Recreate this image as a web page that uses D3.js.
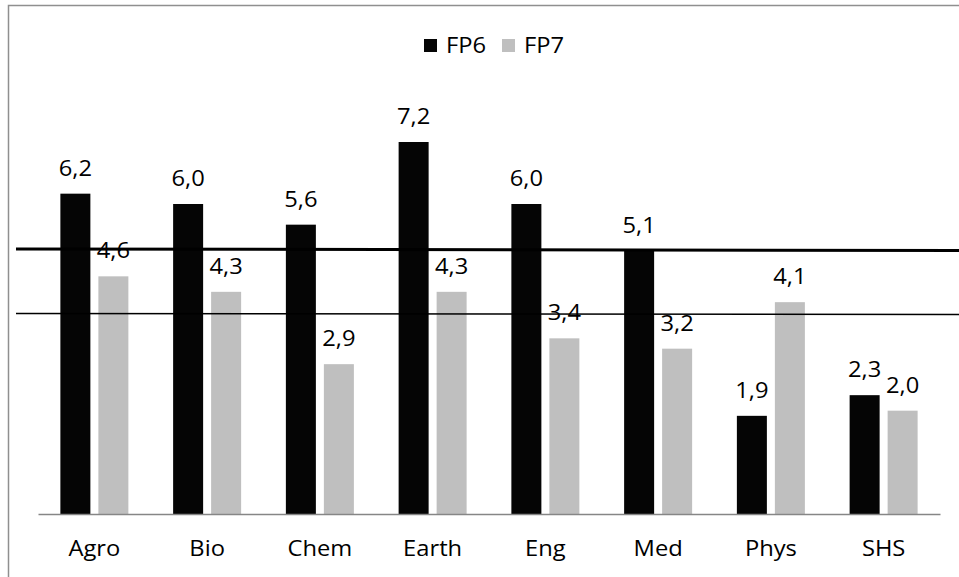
<!DOCTYPE html>
<html>
<head>
<meta charset="utf-8">
<script src="https://cdn.jsdelivr.net/npm/d3@7"></script>
<style>
  html, body { margin: 0; padding: 0; background: #fff; }
  svg { display: block; }
  text { font-family: "Open Sans", "Noto Sans", sans-serif; fill: #000; font-size: 21px; }
</style>
</head>
<body>
<svg id="chart" width="959" height="577"></svg>
<script>
// Scores by research domain, two framework programmes
const categories = ["Agro", "Bio", "Chem", "Earth", "Eng", "Med", "Phys", "SHS"];
const series = ["FP6", "FP7"];
const fp6 = [6.2, 6.0, 5.6, 7.2, 6.0, 5.1, 1.9, 2.3];
const fp7 = [4.6, 4.3, 2.9, 4.3, 3.4, 3.2, 4.1, 2.0];
// Reference lines: value at the left end and at the right end
const refThick = [5.13, 5.10];
const refThin = [3.88, 3.86];

const colors = { FP6: "#050505", FP7: "#bfbfbf" };
const fmt = v => d3.format(".1f")(v).replace(".", ",");
const stretch = 1.13; // text is drawn slightly widened

const svg = d3.select("#chart");
const W = 959, H = 577;
const plot = { left: 38, right: 940, top: 49, bottom: 514 };

const x0 = d3.scaleBand().domain(categories).range([plot.left, plot.right]);
const y = d3.scaleLinear().domain([0, 9]).range([plot.bottom, plot.top]);
const groupW = 68;
const x1 = d3.scaleBand().domain(series).range([0, groupW]).paddingInner(8 / 38);

// outer frame
svg.append("rect")
  .attr("x", 8.5).attr("y", 5.5)
  .attr("width", W).attr("height", H)
  .attr("fill", "none").attr("stroke", "#8f8f8f").attr("stroke-width", 1.5);

const rows = categories.map((c, i) => ({ cat: c, values: [
  { s: "FP6", v: fp6[i] }, { s: "FP7", v: fp7[i] }
]}));

const groups = svg.append("g").selectAll("g").data(rows).join("g")
  .attr("transform", d => `translate(${x0(d.cat) + (x0.bandwidth() - groupW) / 2},0)`);

groups.selectAll("rect").data(d => d.values).join("rect")
  .attr("x", d => x1(d.s))
  .attr("y", d => y(d.v))
  .attr("width", x1.bandwidth())
  .attr("height", d => y(0) - y(d.v))
  .attr("fill", d => colors[d.s]);

// x axis baseline and category labels
const xAxis = d3.axisBottom(x0).tickSize(0).tickPadding(0);
const ax = svg.append("g").attr("transform", `translate(0,${plot.bottom})`).call(xAxis);
ax.select(".domain").attr("stroke", "#868686").attr("stroke-width", 1.5);
ax.selectAll(".tick text")
  .attr("dy", null).attr("y", null)
  .attr("transform", `translate(0,42) scale(${stretch},1)`)
  .style("font-family", "\"Open Sans\", sans-serif")
  .style("font-size", "21px").attr("fill", "#000");

// reference lines
const xl = d3.scaleLinear().domain([0, 1]).range([16, W]);
const refLine = d3.line().x((d, i) => xl(i)).y(d => y(d));
svg.append("path").datum(refThick).attr("d", refLine)
  .attr("fill", "none").attr("stroke", "#000").attr("stroke-width", 3);
svg.append("path").datum(refThin).attr("d", refLine)
  .attr("fill", "none").attr("stroke", "#000").attr("stroke-width", 1.5);

// value labels
groups.selectAll("text.val").data(d => d.values).join("text")
  .attr("class", "val")
  .attr("transform", d => `translate(${x1(d.s) + x1.bandwidth() / 2},${y(d.v) - 18}) scale(${stretch},1)`)
  .attr("text-anchor", "middle")
  .text(d => fmt(d.v));

// legend
const legend = svg.append("g").attr("transform", "translate(424,0)");
const items = [{ s: "FP6", x: 0 }, { s: "FP7", x: 78 }];
const li = legend.selectAll("g").data(items).join("g")
  .attr("transform", d => `translate(${d.x},0)`);
li.append("rect").attr("x", 0).attr("y", 39).attr("width", 13).attr("height", 13)
  .attr("fill", d => colors[d.s]);
li.append("text").attr("transform", `translate(22,53) scale(${stretch},1)`).text(d => d.s);
</script>
</body>
</html>
